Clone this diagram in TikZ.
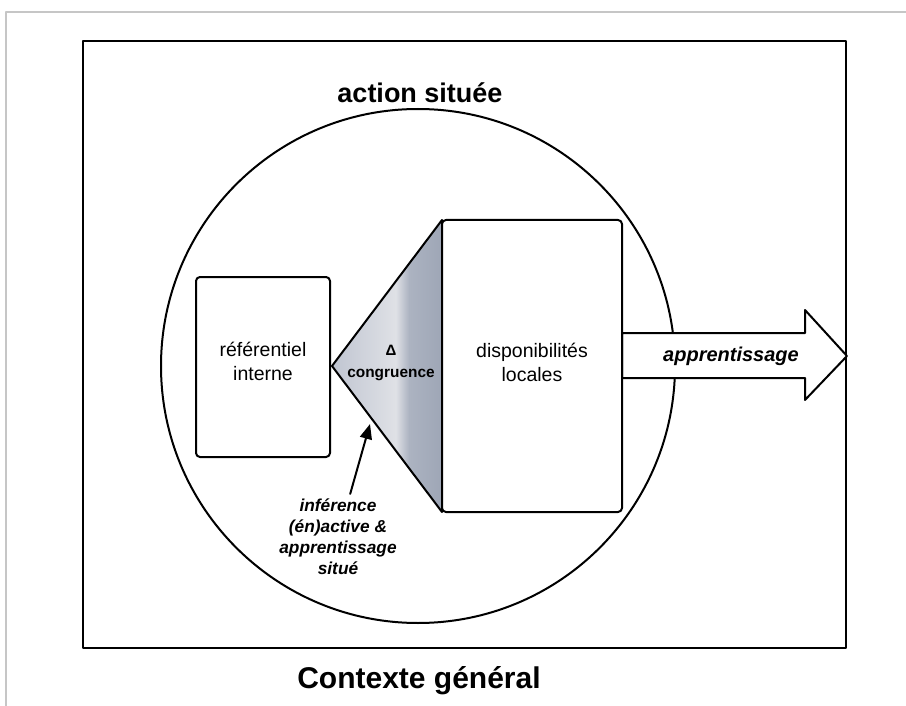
\documentclass[tikz,border=0pt]{standalone}
\usepackage{fontspec}
\setmainfont{Liberation Sans}
\usetikzlibrary{arrows.meta,positioning,calc}

\definecolor{congrA}{HTML}{C0C5D1}
\definecolor{congrB}{HTML}{DFE1E6}
\definecolor{congrC}{HTML}{ACB3C1}
\definecolor{congrD}{HTML}{9EA6B6}
\pgfdeclarehorizontalshading{congrshade}{100bp}{%
  color(0bp)=(congrA); color(25bp)=(congrA); color(54bp)=(congrB);
  color(60bp)=(congrC); color(75bp)=(congrD); color(100bp)=(congrD)}

\begin{document}
\begin{tikzpicture}[
        >=Stealth, line join=round, line cap=round,
        x=1pt, y=-1pt,
        box/.style={draw, line width=2pt, rounded corners=4pt, fill=white, inner sep=0pt},
        lbl/.style={font=\fontsize{19.5}{24}\selectfont, align=center, inner sep=1pt},
        ttl/.style={font=\bfseries, inner sep=1pt}
      ]
      % ---- canvas ----
      \useasboundingbox (0,0) rectangle (906,706);
      \draw[gray!45, line width=1.2pt] (6,706) -- (6,12) -- (906,12);

      % ---- general context ----
      \node[draw, line width=2.6pt, minimum width=763pt, minimum height=607pt, inner sep=0pt]
        (ctx) at (464.5,344.5) {};
      \node[ttl, anchor=base, font=\fontsize{30}{34}\bfseries\selectfont] (ctxlbl) at (419,688) {Contexte général};

      % ---- situated action ----
      \node[draw, circle, line width=2pt, minimum size=514pt, inner sep=0pt] (act) at (418,366) {};
      \node[ttl, anchor=base, font=\fontsize{27}{30}\bfseries\selectfont] (actlbl) at (420,103) {action située};

      % ---- learning arrow ----
      \filldraw[fill=white, line width=2pt]
        (622,333) -- (805,333) -- (805,310) -- (847,356) -- (805,400) -- (805,378) -- (622,378) -- cycle;
      \node[lbl, font=\fontsize{20}{24}\bfseries\itshape\selectfont] (appr) at (731,356) {apprentissage};

      % ---- congruence wedge ----
      \shade[shading=congrshade] (332,366) -- (442,220) -- (442,512) -- cycle;
      \draw[line width=2pt] (332,366) -- (442,220) -- (442,512) -- cycle;
      \node[ttl, font=\fontsize{15}{16}\bfseries\selectfont] (delta) at (391,350) {Δ};
      \node[ttl, font=\fontsize{15.4}{18}\bfseries\selectfont] (congr) at (391,375) {congruence};

      % ---- boxes ----
      \node[box, minimum width=134pt, minimum height=180pt] (ref) at (263,367) {};
      \node[lbl] at (263,361) {référentiel\\interne};
      \node[box, minimum width=180pt, minimum height=292pt] (dispo) at (532,366) {};
      \node[lbl] at (532,362) {disponibilités\\locales};

      % ---- enactive inference ----
      \node[lbl, inner sep=5pt, font=\fontsize{17.3}{21}\bfseries\itshape\selectfont]
        (infer) at (338,537) {inférence\\(én)active \&\\apprentissage\\situé};
      \coordinate (hit) at (370,424);
      \draw[line width=2pt, -{Triangle[length=15pt, width=12pt]}] (infer) -- (hit);

    \end{tikzpicture}
\end{document}
